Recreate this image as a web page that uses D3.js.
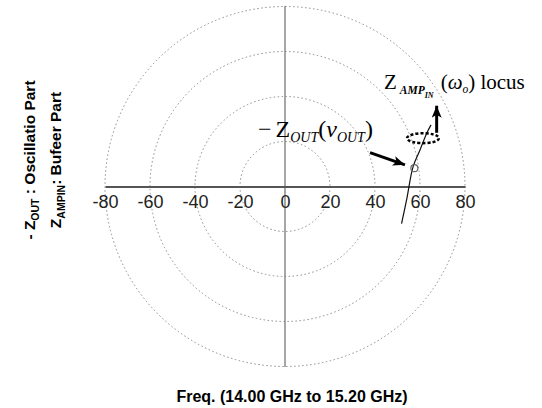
<!DOCTYPE html>
<html>
<head>
<meta charset="utf-8">
<script src="https://cdn.jsdelivr.net/npm/d3@7"></script>
<style>
  body { margin: 0; background: #fff; }
  svg { display: block; }
</style>
</head>
<body>
<svg id="chart" width="542" height="408"></svg>
<script>
// Polar-style impedance plane: grid rings and real-axis ticks
const ringRadii = [20, 40, 60, 80];
const tickValues = [-80, -60, -40, -20, 0, 20, 40, 60, 80];

// Z_AMPIN locus over the sweep (real part, imaginary part)
const locusRe = [51.8, 54.2, 56.9, 60.0, 63.1, 64.9];
const locusIm = [-16.4, -5.1, 8.7, 16.2, 23.8, 27.3];

// Oscillation point where -Z_OUT meets the locus
const operatingPoint = [57.5, 8.1];

// Ellipse marking the locus region (centre re, centre im, half-width, half-height)
const locusRegion = [61.3, 21.4, 7.1, 2.2];

// Arrows: [fromRe, fromIm, toRe, toIm]
const pointerArrow = [37.8, 15.0, 53.3, 9.6];
const locusArrow = [67.4, 23.8, 67.4, 35.8];

const svg = d3.select("#chart");

const x = d3.scaleLinear().domain([-80, 80]).range([105, 465]);
const y = d3.scaleLinear().domain([-80, 80]).range([367, 6]);

const defs = svg.append("defs");
defs.append("marker")
  .attr("id", "head")
  .attr("viewBox", "0 0 12 10")
  .attr("refX", 12).attr("refY", 5)
  .attr("markerWidth", 12).attr("markerHeight", 10)
  .attr("markerUnits", "userSpaceOnUse")
  .attr("orient", "auto")
  .append("path")
  .attr("d", "M0,0 L12,5 L0,10 L3,5 Z")
  .attr("fill", "#000");

// grid rings
svg.append("g")
  .selectAll("circle")
  .data(ringRadii)
  .join("circle")
  .attr("cx", x(0))
  .attr("cy", y(0))
  .attr("r", d => x(d) - x(0))
  .attr("fill", "none")
  .attr("stroke", "#8c8c8c")
  .attr("stroke-width", 1)
  .attr("stroke-dasharray", "1.5,2.5");

// imaginary axis
svg.append("line")
  .attr("x1", x(0)).attr("x2", x(0))
  .attr("y1", y(80)).attr("y2", y(-80))
  .attr("stroke", "#777")
  .attr("stroke-width", 1.3);

// real axis with tick labels
const xAxis = svg.append("g")
  .attr("transform", `translate(0,${y(0)})`)
  .call(d3.axisBottom(x)
    .tickValues(tickValues)
    .tickFormat(d => String(d))
    .tickSize(0).tickSizeOuter(0).tickPadding(9));
xAxis.select(".domain").attr("stroke", "#555").attr("stroke-width", 2);
xAxis.selectAll("text")
  .attr("font-family", "Liberation Sans, Arial, sans-serif")
  .attr("font-size", 18)
  .attr("fill", "#222");

// locus curve
const locus = locusRe.map((re, i) => [re, locusIm[i]]);
svg.append("path")
  .datum(locus)
  .attr("d", d3.line().x(d => x(d[0])).y(d => y(d[1])).curve(d3.curveCatmullRom))
  .attr("fill", "none")
  .attr("stroke", "#111")
  .attr("stroke-width", 1.2);

// dashed region on the locus
svg.append("ellipse")
  .attr("cx", x(locusRegion[0]))
  .attr("cy", y(locusRegion[1]))
  .attr("rx", x(locusRegion[2]) - x(0))
  .attr("ry", y(0) - y(locusRegion[3]))
  .attr("fill", "none")
  .attr("stroke", "#000")
  .attr("stroke-width", 2.5)
  .attr("stroke-dasharray", "3,2");

// oscillation point
svg.append("circle")
  .attr("cx", x(operatingPoint[0]))
  .attr("cy", y(operatingPoint[1]))
  .attr("r", 3.5)
  .attr("fill", "none")
  .attr("stroke", "#666")
  .attr("stroke-width", 1.2);

// arrows
[pointerArrow, locusArrow].forEach(a => {
  svg.append("line")
    .attr("x1", x(a[0])).attr("y1", y(a[1]))
    .attr("x2", x(a[2])).attr("y2", y(a[3]))
    .attr("stroke", "#000")
    .attr("stroke-width", 3)
    .attr("marker-end", "url(#head)");
});

// annotation: -Z_OUT(v_OUT)
const serif = "Liberation Serif, Times New Roman, serif";
const tOut = svg.append("text")
  .attr("x", x(-12)).attr("y", 137)
  .attr("font-family", serif)
  .attr("font-size", 24)
  .attr("fill", "#000");
tOut.append("tspan").text("\u2212");
tOut.append("tspan").attr("dx", 4).text("Z");
tOut.append("tspan").attr("dy", 5).attr("font-size", 14).attr("font-style", "italic").text("OUT");
tOut.append("tspan").attr("dy", -5).text("(");
tOut.append("tspan").attr("font-style", "italic").text("\u03BD");
tOut.append("tspan").attr("dy", 5).attr("font-size", 14).attr("font-style", "italic").text("OUT");
tOut.append("tspan").attr("dy", -5).text(")");

// annotation: Z_AMPIN(w_o) locus
const tAmp = svg.append("text")
  .attr("x", x(44)).attr("y", 89)
  .attr("font-family", serif)
  .attr("font-size", 21)
  .attr("fill", "#000");
tAmp.append("tspan").text("Z");
tAmp.append("tspan").attr("dx", 3).attr("dy", 5).attr("font-size", 11.5).attr("font-style", "italic").attr("font-weight", "bold").text("AMP");
tAmp.append("tspan").attr("dy", 4).attr("font-size", 8).attr("font-style", "italic").attr("font-weight", "bold").text("IN");
tAmp.append("tspan").attr("dx", 7).attr("dy", -9).text("(");
tAmp.append("tspan").attr("font-style", "italic").text("\u03C9");
tAmp.append("tspan").attr("dy", 4).attr("font-size", 11.5).attr("font-style", "italic").text("o");
tAmp.append("tspan").attr("dy", -4).text(")");
tAmp.append("tspan").text(" locus");

// axis titles
const sans = "Liberation Sans, Arial, sans-serif";
function sideLabel(xPos, parts) {
  const t = svg.append("text")
    .attr("transform", `translate(${xPos},160) rotate(-90)`)
    .attr("text-anchor", "middle")
    .attr("font-family", sans)
    .attr("font-weight", "bold")
    .attr("font-size", 15.5)
    .attr("fill", "#000");
  parts.forEach(p => {
    const s = t.append("tspan").text(p.text);
    if (p.size) s.attr("font-size", p.size);
    if (p.dy) s.attr("dy", p.dy);
  });
}
sideLabel(35, [
  { text: "- Z" },
  { text: "OUT", size: 10.5, dy: 4 },
  { text: " : Oscillatio Part", dy: -4 }
]);
sideLabel(61, [
  { text: "Z" },
  { text: "AMPIN", size: 10.5, dy: 4 },
  { text: ": Bufeer Part", dy: -4 }
]);

svg.append("text")
  .attr("x", 292).attr("y", 402)
  .attr("text-anchor", "middle")
  .attr("font-family", sans)
  .attr("font-weight", "bold")
  .attr("font-size", 16)
  .attr("fill", "#000")
  .text("Freq. (14.00 GHz to 15.20 GHz)");
</script>
</body>
</html>
